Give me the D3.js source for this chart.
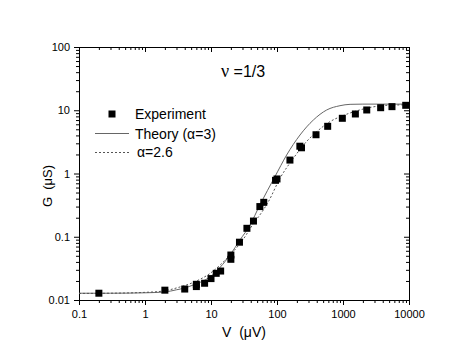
<!DOCTYPE html>
<html>
<head>
	<title>Conductance vs bias</title>
	<script src="https://d3js.org/d3.v7.min.js"></script>
	<style>
		body { margin: 0; background: #fff; }
		text { font-family: "Liberation Sans", Arial, sans-serif; fill: #000; }
		.axis path, .axis line { stroke: #000; stroke-width: 1; }
		.axis text { font-size: 11px; }
	</style>
</head>
<body>
	<div id="chart"></div>

	<script>

		// Experimental points, V in microvolts, G in microsiemens
		var expV = [0.2, 2, 4, 6, 6, 8, 10, 12, 14, 20, 20, 27, 35, 44, 55, 63, 95, 100,
			157, 222, 235, 390, 586, 977, 1540, 2290, 3720, 5520, 8920];
		var expG = [0.0128, 0.0143, 0.0149, 0.0163, 0.0177, 0.0184, 0.0218, 0.0264, 0.0287, 0.044, 0.0514, 0.082, 0.136, 0.177, 0.30, 0.35, 0.78, 0.82,
			1.63, 2.7, 2.55, 4.1, 5.57, 7.46, 8.73, 10.1, 10.97, 11.4, 11.97];

		// Theory curve (alpha = 3)
		var theoryV = [0.1, 0.3, 1, 2, 3, 4, 5.4, 9.7, 19.4, 27.5, 39, 55, 93, 140, 223, 355, 566, 900, 1280, 2000, 4000, 10000];
		var theoryG = [0.0128, 0.0128, 0.0130, 0.0134, 0.0145, 0.0155, 0.0173, 0.0233, 0.0514, 0.089, 0.153, 0.318, 0.89, 1.96, 4.06, 7.0, 10.1, 11.8, 12.4, 12.5, 12.5, 12.5];

		// alpha = 2.6 curve
		var fitV = [0.1, 0.3, 1, 2, 3, 5.4, 9.7, 19.4, 29, 46, 55, 74, 111, 177, 265, 400, 635, 1010, 1420, 2570, 4650, 10000];
		var fitG = [0.0127, 0.0128, 0.0132, 0.0140, 0.0155, 0.019, 0.0264, 0.0514, 0.0836, 0.173, 0.221, 0.358, 0.84, 1.74, 3.0, 4.58, 6.6, 8.26, 9.38, 11.07, 11.97, 12.2];

		// Axis ticks
		var xTicks = [0.1, 1, 10, 100, 1000, 10000];
		var xTickLabels = ["0.1", "1", "10", "100", "1000", "10000"];
		var yTicks = [0.01, 0.1, 1, 10, 100];
		var yTickLabels = ["0.01", "0.1", "1", "10", "100"];

		var width = 471, height = 360;
		var margin = { left: 79, right: 409, top: 47, bottom: 300 };

		var svg = d3.select("#chart").append("svg")
			.attr("width", width)
			.attr("height", height);

		var x = d3.scaleLog().domain([0.1, 10000]).range([margin.left, margin.right]);
		var y = d3.scaleLog().domain([0.01, 100]).range([margin.bottom, margin.top]);

		// minor ticks at 2..9 of each decade
		function minors(ticks) {
			var out = [];
			for (var i = 0; i < ticks.length - 1; i++)
				for (var k = 2; k <= 9; k++) out.push(ticks[i] * k);
			return out;
		}
		var xMinor = minors(xTicks), yMinor = minors(yTicks);

		// bottom axis
		svg.append("g").attr("class", "axis")
			.attr("transform", "translate(0," + margin.bottom + ")")
			.call(d3.axisBottom(x).tickValues(xTicks).tickSize(5).tickPadding(5)
				.tickFormat(function (d, i) { return xTickLabels[i]; }));
		svg.append("g").attr("class", "axis")
			.attr("transform", "translate(0," + margin.bottom + ")")
			.call(d3.axisBottom(x).tickValues(xMinor).tickSize(3).tickFormat(""));

		// top axis, ticks hanging down
		svg.append("g").attr("class", "axis")
			.attr("transform", "translate(0," + margin.top + ")")
			.call(d3.axisBottom(x).tickValues(xTicks).tickSize(5).tickFormat(""));
		svg.append("g").attr("class", "axis")
			.attr("transform", "translate(0," + margin.top + ")")
			.call(d3.axisBottom(x).tickValues(xMinor).tickSize(3).tickFormat(""));

		// left axis
		svg.append("g").attr("class", "axis")
			.attr("transform", "translate(" + margin.left + ",0)")
			.call(d3.axisLeft(y).tickValues(yTicks).tickSize(5).tickPadding(4)
				.tickFormat(function (d, i) { return yTickLabels[i]; }));
		svg.append("g").attr("class", "axis")
			.attr("transform", "translate(" + margin.left + ",0)")
			.call(d3.axisLeft(y).tickValues(yMinor).tickSize(3).tickFormat(""));

		// right axis, ticks pointing in
		svg.append("g").attr("class", "axis")
			.attr("transform", "translate(" + margin.right + ",0)")
			.call(d3.axisLeft(y).tickValues(yTicks).tickSize(5).tickFormat(""));
		svg.append("g").attr("class", "axis")
			.attr("transform", "translate(" + margin.right + ",0)")
			.call(d3.axisLeft(y).tickValues(yMinor).tickSize(3).tickFormat(""));

		svg.selectAll(".axis .domain").attr("stroke-width", 1.2);

		// curves
		var line = d3.line()
			.x(function (d) { return x(d[0]); })
			.y(function (d) { return y(d[1]); })
			.curve(d3.curveMonotoneX);

		svg.append("path")
			.datum(theoryV.map(function (v, i) { return [v, theoryG[i]]; }))
			.attr("d", line)
			.attr("fill", "none")
			.attr("stroke", "#666")
			.attr("stroke-width", 1);

		svg.append("path")
			.datum(fitV.map(function (v, i) { return [v, fitG[i]]; }))
			.attr("d", line)
			.attr("fill", "none")
			.attr("stroke", "#555")
			.attr("stroke-width", 1)
			.attr("stroke-dasharray", "2,2");

		// experimental squares
		var sq = 7;
		svg.selectAll(".pt")
			.data(expV.map(function (v, i) { return [v, expG[i]]; }))
			.enter()
			.append("rect")
			.attr("class", "pt")
			.attr("x", function (d) { return x(d[0]) - sq / 2; })
			.attr("y", function (d) { return y(d[1]) - sq / 2; })
			.attr("width", sq)
			.attr("height", sq)
			.attr("fill", "#000");

		// legend
		svg.append("rect").attr("x", 108.5).attr("y", 110.5).attr("width", 7).attr("height", 7).attr("fill", "#000");
		svg.append("text").attr("x", 135).attr("y", 119).style("font-size", "14px").text("Experiment");

		svg.append("line").attr("x1", 95).attr("x2", 129).attr("y1", 133.5).attr("y2", 133.5)
			.attr("stroke", "#666").attr("stroke-width", 1);
		svg.append("text").attr("x", 135).attr("y", 138.5).style("font-size", "14px").text("Theory (α=3)");

		svg.append("line").attr("x1", 95).attr("x2", 129).attr("y1", 152.5).attr("y2", 152.5)
			.attr("stroke", "#555").attr("stroke-width", 1).attr("stroke-dasharray", "2,2");
		svg.append("text").attr("x", 137).attr("y", 157).style("font-size", "14px").text("α=2.6");

		// title
		var title = svg.append("text").attr("x", 221).attr("y", 77).style("font-size", "16px");
		title.append("tspan").style("font-family", "'Liberation Serif', serif").style("font-size", "18px").text("ν");
		title.append("tspan").text(" =1/3");

		// axis titles
		svg.append("text")
			.attr("x", 244).attr("y", 337)
			.attr("text-anchor", "middle")
			.style("font-size", "14px")
			.style("white-space", "pre")
			.text("V  (μV)");

		svg.append("text")
			.attr("transform", "translate(52,186) rotate(-90)")
			.attr("text-anchor", "middle")
			.style("font-size", "13px")
			.style("white-space", "pre")
			.text("G  (μS)");

	</script>
</body>
</html>
